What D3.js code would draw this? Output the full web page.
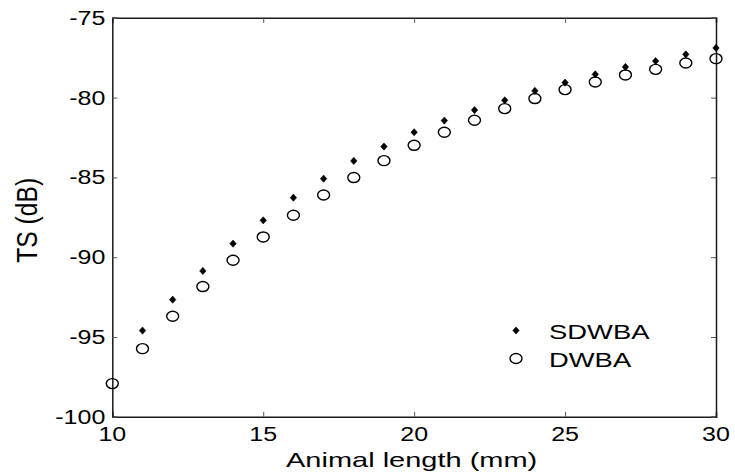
<!DOCTYPE html>
<html>
<head>
<meta charset="utf-8">
<script src="https://cdn.jsdelivr.net/npm/d3@7"></script>
<style>
  html, body { margin: 0; padding: 0; background: #fff; }
  svg { display: block; }
  text { font-family: "Liberation Sans", Arial, Helvetica, sans-serif; fill: #000; }
</style>
</head>
<body>
<svg id="chart" width="735" height="476"></svg>
<script>
// Target strength vs. animal length, two scattering models
const lengths = [10, 11, 12, 13, 14, 15, 16, 17, 18, 19, 20, 21, 22, 23, 24, 25, 26, 27, 28, 29, 30];
const sdwba = [null, -94.60, -92.66, -90.86, -89.15, -87.69, -86.27, -85.08, -83.97, -83.07, -82.17,
               -81.44, -80.78, -80.17, -79.58, -79.06, -78.54, -78.08, -77.71, -77.29, -76.89];
const dwba = [-97.92, -95.73, -93.70, -91.84, -90.19, -88.73, -87.37, -86.10, -85.01, -83.95, -82.99,
              -82.17, -81.42, -80.69, -80.06, -79.50, -79.02, -78.58, -78.23, -77.83, -77.56];
const xTicks = [10, 15, 20, 25, 30];
const yTicks = [-100, -95, -90, -85, -80, -75];
const seriesNames = ["SDWBA", "DWBA"];
const xLabel = "Animal length (mm)";
const yLabel = "TS (dB)";

const svg = d3.select("#chart");
const plotL = 112.3, plotR = 716, plotT = 17.8, plotB = 416.8;

const x = d3.scaleLinear().domain([10, 30]).range([plotL, plotR]);
const y = d3.scaleLinear().domain([-100, -75]).range([plotB, plotT]);

const stretch = 1.25;     // wide glyph shape of the tick labels
const axisColor = "#1a1a1a";

// Frame with mirrored inward ticks
const gx = svg.append("g").attr("transform", `translate(0,${plotB})`)
  .call(d3.axisBottom(x).tickValues(xTicks).tickSize(-5).tickFormat(""));
const gxTop = svg.append("g").attr("transform", `translate(0,${plotT})`)
  .call(d3.axisTop(x).tickValues(xTicks).tickSize(-5).tickFormat(""));
const gy = svg.append("g").attr("transform", `translate(${plotL},0)`)
  .call(d3.axisLeft(y).tickValues(yTicks).tickSize(-5).tickFormat(""));
const gyR = svg.append("g").attr("transform", `translate(${plotR},0)`)
  .call(d3.axisRight(y).tickValues(yTicks).tickSize(-5).tickFormat(""));

[gx, gxTop, gy, gyR].forEach(g => {
  g.select(".domain").attr("stroke", axisColor).attr("stroke-width", 1.5);
  g.selectAll(".tick line").attr("stroke", "#555").attr("stroke-width", 1);
});

// Tick labels
svg.append("g").selectAll("text").data(xTicks).join("text")
  .attr("transform", d => `translate(${x(d)},${plotB + 24}) scale(${stretch},1)`)
  .attr("text-anchor", "middle")
  .attr("font-size", 20)
  .text(d => d);

svg.append("g").selectAll("text").data(yTicks).join("text")
  .attr("transform", d => `translate(${plotL - 7},${y(d) + 7}) scale(${stretch},1)`)
  .attr("text-anchor", "end")
  .attr("font-size", 20)
  .text(d => d);

// Axis titles
svg.append("text")
  .attr("transform", `translate(${(plotL + plotR) / 2 - 2.5},${plotB + 50}) scale(1.45,1)`)
  .attr("text-anchor", "middle")
  .attr("font-size", 20)
  .text(xLabel);

// rotated title: glyphs widened across the text direction, like the horizontal labels
svg.append("text")
  .attr("transform", `translate(37,${(plotT + plotB) / 2 + 3}) rotate(-90) scale(1.07,1.3)`)
  .attr("text-anchor", "middle")
  .attr("font-size", 23)
  .text(yLabel);

// Marker shapes
const diamond = "M0,-3.6L3.2,0L0,3.6L-3.2,0Z";
function drawDiamond(sel) {
  sel.attr("d", diamond).attr("fill", "#000").attr("stroke", "#000").attr("stroke-width", 0.6);
}
function drawRing(sel) {
  sel.attr("rx", 6).attr("ry", 5).attr("fill", "none").attr("stroke", "#000").attr("stroke-width", 1.4);
}

// DWBA open markers
const pts = lengths.map((L, i) => ({ L, s: sdwba[i], d: dwba[i] }));
svg.append("g").selectAll("ellipse").data(pts.filter(p => p.d != null)).join("ellipse")
  .attr("cx", p => x(p.L)).attr("cy", p => y(p.d))
  .call(drawRing);

// SDWBA filled markers
svg.append("g").selectAll("path").data(pts.filter(p => p.s != null)).join("path")
  .attr("transform", p => `translate(${x(p.L)},${y(p.s)})`)
  .call(drawDiamond);

// Legend (no box)
const legX = 516, legY = 330.5, legGap = 28;
const leg = svg.append("g");
leg.append("path").attr("transform", `translate(${legX},${legY})`).call(drawDiamond);
leg.append("ellipse").attr("cx", legX).attr("cy", legY + legGap).call(drawRing);
seriesNames.forEach((name, i) => {
  leg.append("text")
    .attr("transform", `translate(${legX + 33},${legY + 8.5 + i * legGap}) scale(1.37,1)`)
    .attr("font-size", 20)
    .text(name);
});
</script>
</body>
</html>
